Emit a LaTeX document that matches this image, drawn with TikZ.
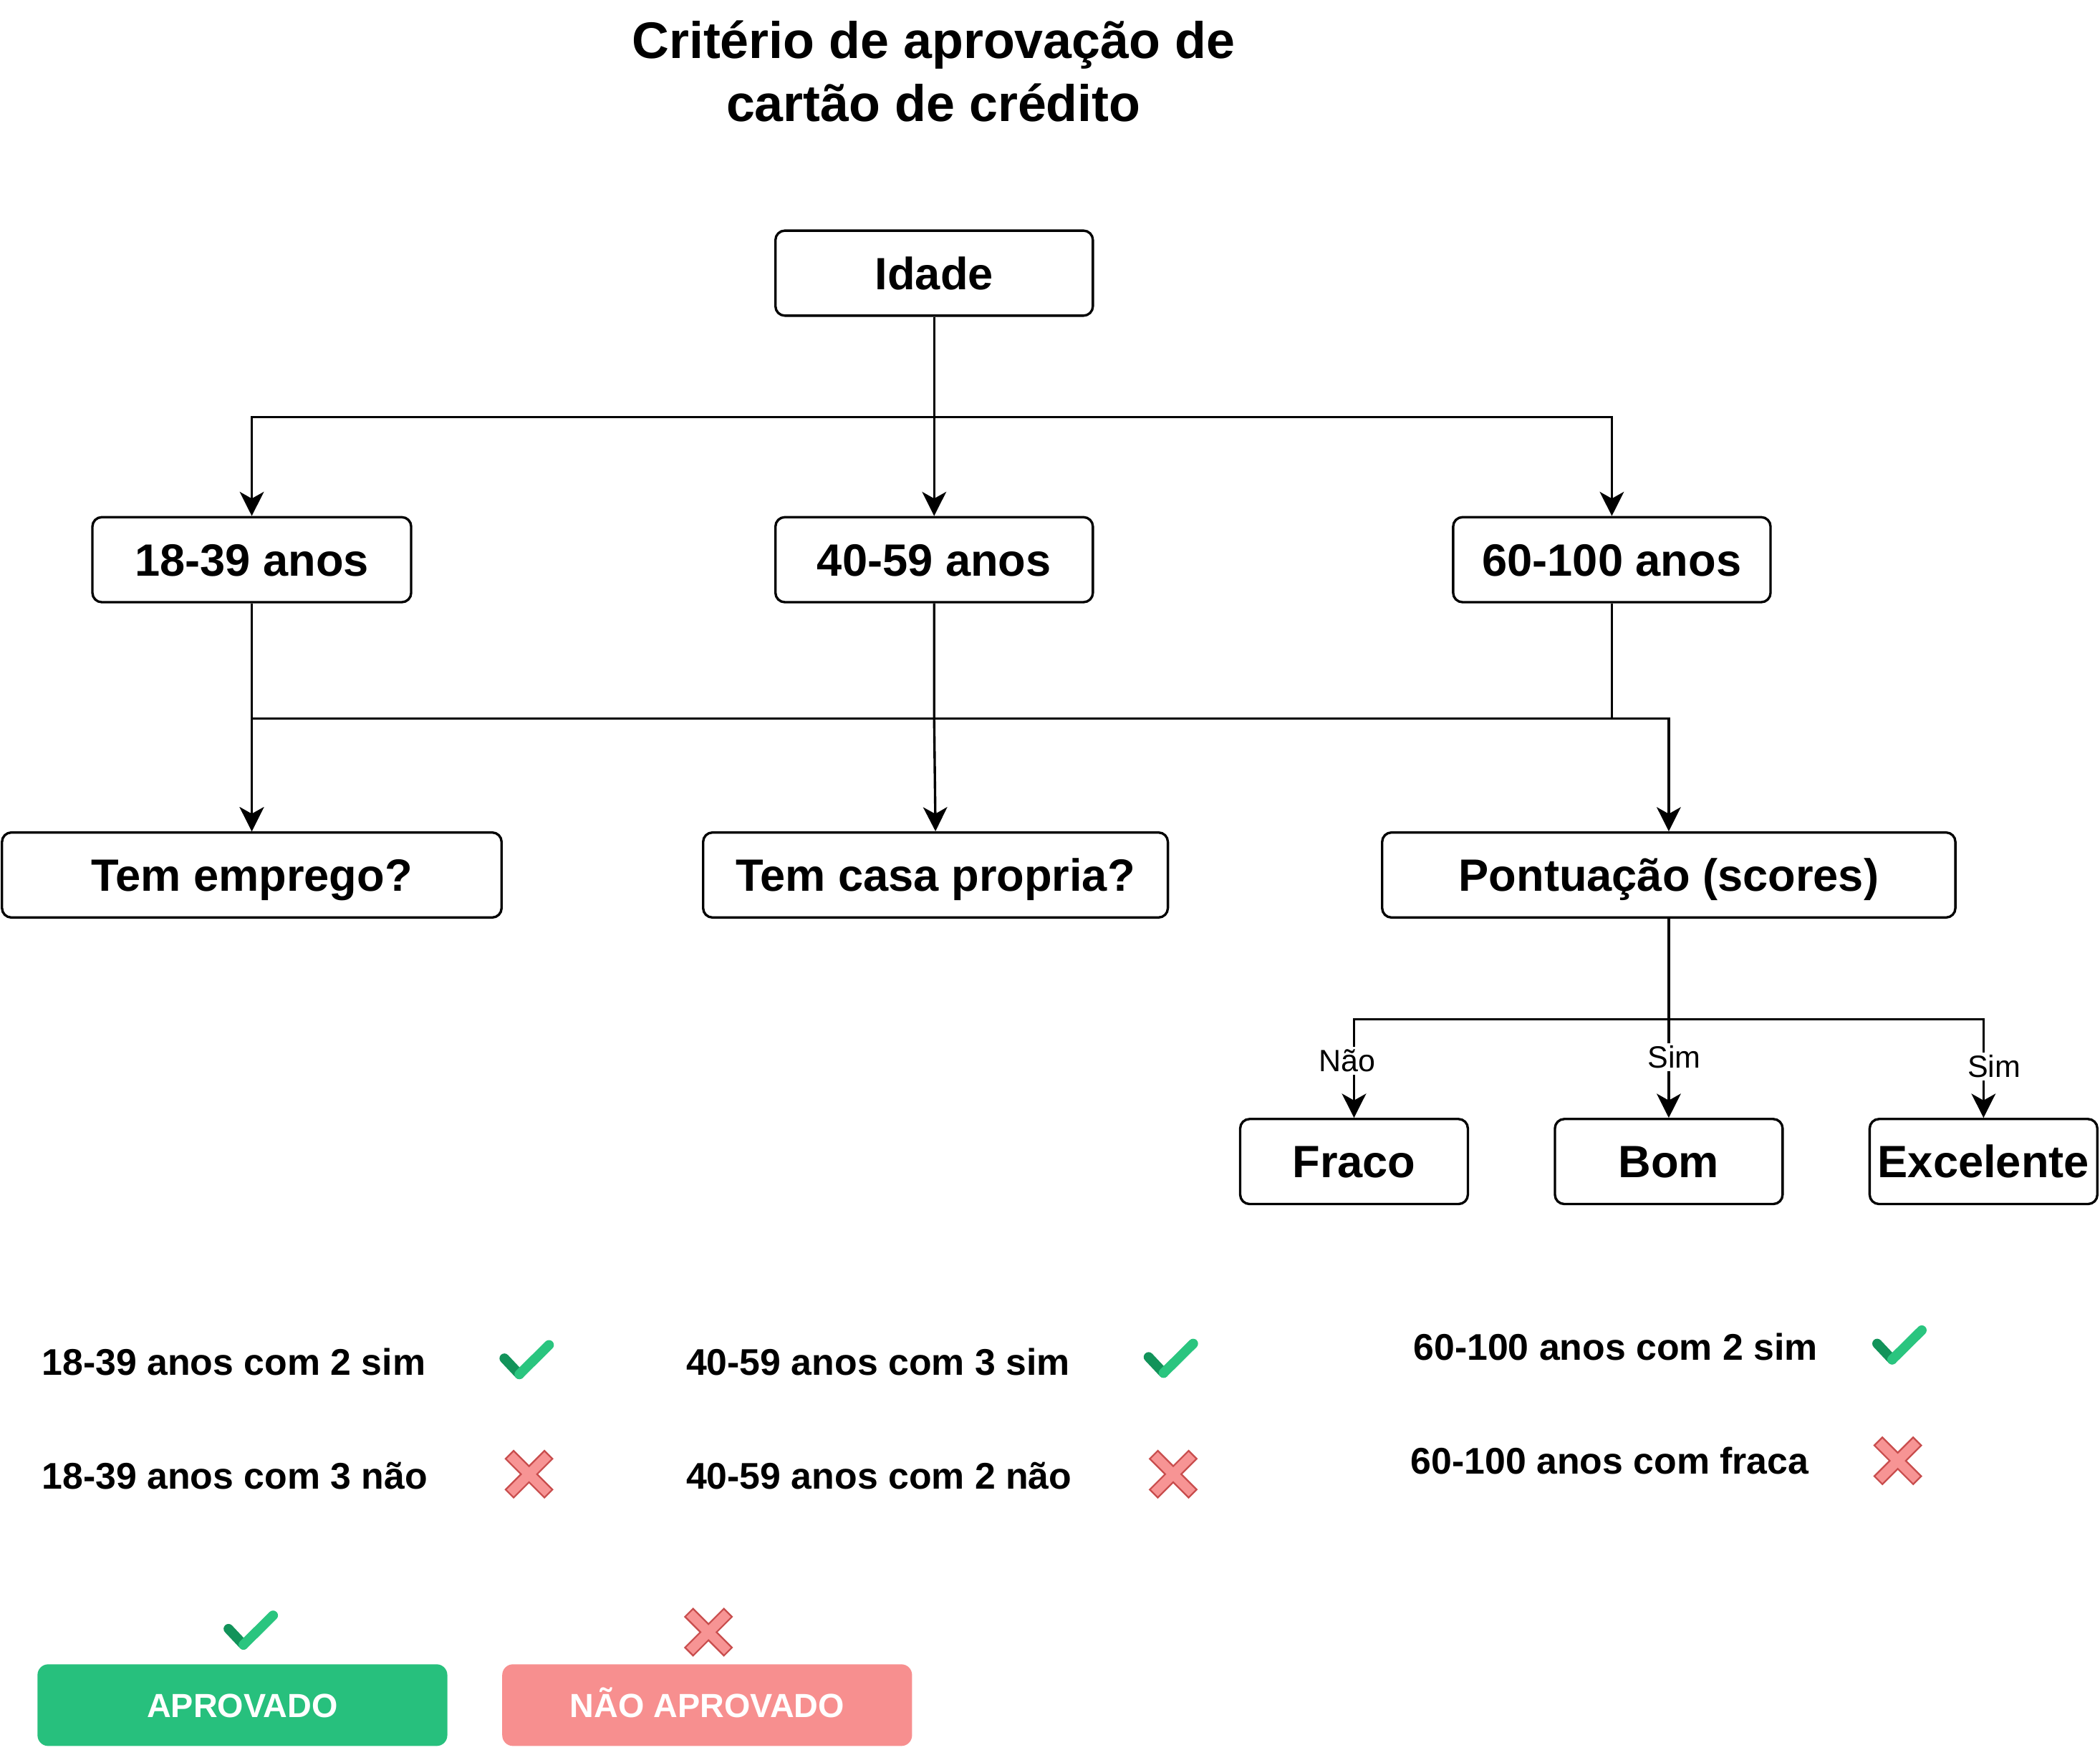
\documentclass[tikz,border=0pt]{standalone}
\usepackage{fontspec}
\setmainfont{Liberation Sans}
\usetikzlibrary{arrows.meta, positioning, calc}

\definecolor{okgreen}{RGB}{39,192,125}
\definecolor{okdark}{RGB}{18,147,90}
\definecolor{oklight}{RGB}{42,197,127}
\definecolor{nored}{RGB}{247,143,143}
\definecolor{nofill}{RGB}{247,148,148}
\definecolor{noline}{RGB}{200,77,77}

\begin{document}
\begin{tikzpicture}[%
    x=0.5pt, y=-0.5pt,    % one unit = one pixel of the sketch, y downwards
    >={Stealth[inset=2.5pt, length=9pt, width=9pt]},
    box/.style={draw, rounded corners=3.5pt, line width=0.9pt, minimum height=31.75pt,
        inner sep=0pt, text height=12.1pt, text depth=0pt,
        font=\bfseries\fontsize{16.9}{20}\selectfont},
    conn/.style={->, line width=0.9pt},
    answer/.style={fill=white, inner sep=1pt, font=\fontsize{11.5}{13}\selectfont},
    ruletext/.style={anchor=base west, inner sep=0pt, font=\bfseries\fontsize{13.85}{16}\selectfont},
    result/.style={rounded corners=4pt, minimum width=153pt, minimum height=30.5pt,
        inner sep=0pt, text height=9pt, text depth=0pt, text=white,
        font=\bfseries\fontsize{12.5}{15}\selectfont},
    okmark/.pic={
        \draw[line width=3.65pt, draw=okdark, line cap=round] (-16.4,-2.5) -- (-5.2,9.4);
        \draw[line width=3.65pt, draw=oklight, line cap=round] (-5.2,9.4) -- (16.9,-12.5);
    },
    nomark/.pic={
        \filldraw[fill=nofill, draw=noline, line width=0.6pt]
            (-11.5,-17.5) -- (0,-6) -- (11.5,-17.5) -- (17.5,-11.5) -- (6,0) -- (17.5,11.5)
            -- (11.5,17.5) -- (0,6) -- (-11.5,17.5) -- (-17.5,11.5) -- (-6,0) -- (-17.5,-11.5) -- cycle;
    },
    ]

\useasboundingbox (0,0) rectangle (1568,1307);

%==================================================
% Title
%==================================================
\node[align=center, font=\bfseries\fontsize{19.2}{23.5}\selectfont] (title) at (697,53)
    {Critério de aprovação de\\cartão de crédito};

%==================================================
% Tree nodes
%==================================================
\node[box, minimum width=118.5pt] (idade)  at (697.5,204) {Idade};

\node[box, minimum width=119pt]   (m1839)  at (188,418)    {18-39 anos};
\node[box, minimum width=118.5pt] (m4059)  at (697.5,418)  {40-59 anos};
\node[box, minimum width=118.5pt] (m60100) at (1203.5,418) {60-100 anos};

\node[box, minimum width=186.5pt] (emprego) at (188,653.5)  {Tem emprego?};
\node[box, minimum width=173.5pt] (casa)    at (698.5,653.5) {Tem casa propria?};
\node[box, minimum width=214pt]   (pontos)  at (1246,653.5) {Pontuação (scores)};

\node[box, minimum width=85pt] (fraco)     at (1011,867.5) {Fraco};
\node[box, minimum width=85pt] (bom)       at (1246,867.5) {Bom};
\node[box, minimum width=85pt] (excelente) at (1481,867.5) {Excelente};

%==================================================
% Arrows
%==================================================
% Idade
\draw[conn] (idade.south) -- ++(0,75) -| (m1839.north);
\draw[conn] (idade) -- (m4059);
\draw[conn] (idade.south) -- ++(0,75) -| (m60100.north);

% Age groups
\draw[conn] (m1839) -- (emprego);
\draw[conn] (m4059.south) -- ++(0,86) -- (casa.north);
\draw[conn] (m60100.south) -- ++(0,86) -| (emprego.north);
\draw[conn] (m60100.south) -- ++(0,86) -| (pontos.north);

% Scores
\draw[conn] (pontos.south) -- ++(0,75) -| node[answer, pos=0.71, xshift=-2.5pt] {Não} (fraco.north);
\draw[conn] (pontos) -- node[answer, pos=0.695, xshift=2pt] {Sim} (bom);
\draw[conn] (pontos.south) -- ++(0,75) -| node[answer, pos=0.74, xshift=4pt] {Sim} (excelente.north);

%==================================================
% Rules
%==================================================
\node[ruletext] (r1839sim) at (31,1027)   {18-39 anos com 2 sim};
\node[ruletext] (r1839nao) at (31,1112)   {18-39 anos com 3 não};
\node[ruletext] (r4059sim) at (512,1027)  {40-59 anos com 3 sim};
\node[ruletext] (r4059nao) at (512,1112)  {40-59 anos com 2 não};
\node[ruletext] (r60sim)   at (1055,1016) {60-100 anos com 2 sim};
\node[ruletext] (r60fraca) at (1053,1101) {60-100 anos com fraca};

\pic at (393,1017)  {okmark};
\pic at (395,1101)  {nomark};
\pic at (874,1016)  {okmark};
\pic at (876,1101)  {nomark};
\pic at (1418,1006) {okmark};
\pic at (1417,1091) {nomark};

%==================================================
% Legend
%==================================================
\pic at (187,1219) {okmark};
\pic at (529,1219) {nomark};

\node[result, fill=okgreen] (aprovado)    at (181,1273.5) {APROVADO};
\node[result, fill=nored]   (naoaprovado) at (528,1273.5) {NÃO APROVADO};

%==================================================
\end{tikzpicture}
\end{document}
